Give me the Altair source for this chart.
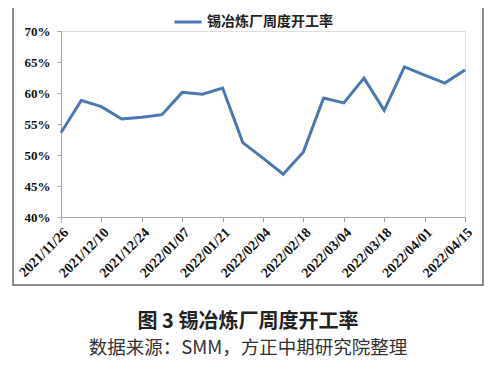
import altair as alt
import pandas as pd

dates = ["2021/11/26", "2021/12/03", "2021/12/10", "2021/12/17", "2021/12/24",
         "2021/12/31", "2022/01/07", "2022/01/14", "2022/01/21", "2022/01/28",
         "2022/02/04", "2022/02/11", "2022/02/18", "2022/02/25", "2022/03/04",
         "2022/03/11", "2022/03/18", "2022/03/25", "2022/04/01", "2022/04/08",
         "2022/04/15"]
rates = [0.536, 0.588, 0.578, 0.558, 0.561, 0.565, 0.601, 0.598, 0.608,
         0.520, 0.495, 0.469, 0.505, 0.592, 0.584, 0.624, 0.572, 0.642,
         0.629, 0.616, 0.637]
series_name = "锡冶炼厂周度开工率"
tick_labels = dates[::2]
y_ticks = [0.40, 0.45, 0.50, 0.55, 0.60, 0.65, 0.70]
caption_title = "图 3  锡冶炼厂周度开工率"
caption_source = "数据来源：SMM，方正中期研究院整理"

df = pd.DataFrame({"date": dates, "rate": rates, "series": [series_name] * len(dates)})

W, H = 404, 186
serif = "Liberation Serif"
cjk = "Noto Sans CJK SC"

line = alt.Chart(df).mark_line(strokeWidth=3).encode(
    x=alt.X("date:O", sort=dates, scale=alt.Scale(type="point", padding=0),
            axis=alt.Axis(title=None, values=tick_labels, labelAngle=315,
                          labelAlign="right", labelBaseline="top",
                          labelFont=serif, labelFontWeight="bold", labelFontSize=14,
                          labelColor="#111", labelPadding=3, tickSize=5,
                          domainColor="#a6a6a6", tickColor="#a6a6a6", grid=False,
                          labelOverlap=False)),
    y=alt.Y("rate:Q", scale=alt.Scale(domain=[0.40, 0.70], nice=False, zero=False),
            axis=alt.Axis(title=None, values=y_ticks, format=".0%",
                          labelFont=serif, labelFontWeight="bold", labelFontSize=13,
                          labelColor="#111", labelPadding=7, tickSize=4,
                          domainColor="#a6a6a6", tickColor="#a6a6a6", grid=False)),
    color=alt.Color("series:N", scale=alt.Scale(range=["#4a78b0"]),
                    legend=alt.Legend(title=None, orient="none", legendX=112, legendY=-24,
                                      symbolType="stroke", symbolSize=729,
                                      symbolStrokeWidth=3, labelFont=cjk,
                                      labelFontWeight="bold", labelFontSize=14,
                                      labelColor="#222", labelOffset=4, padding=0)),
)

border = alt.Chart(df).mark_rect(fill=None, stroke="#8c8c8c", strokeWidth=1.2).encode(
    x=alt.value(-48), x2=alt.value(422), y=alt.value(-28), y2=alt.value(254)
)

cap1 = alt.Chart(pd.DataFrame({"t": [caption_title]})).mark_text(
    font=cjk, fontSize=20, fontWeight="bold", color="#222", align="center", baseline="middle"
).encode(text="t:N", x=alt.value(187), y=alt.value(291))
cap2 = alt.Chart(pd.DataFrame({"t": [caption_source]})).mark_text(
    font=cjk, fontSize=18.5, color="#333", align="center", baseline="middle"
).encode(text="t:N", x=alt.value(187), y=alt.value(317))

chart = alt.layer(border, line, cap1, cap2).properties(
    width=W, height=H,
    autosize=alt.AutoSizeParams(type="none"),
    padding={"left": 53, "top": 23, "right": 26, "bottom": 142},
).configure_view(stroke=None).configure(background="white")

chart.save("out.html", embed_options={"renderer": "svg", "actions": False})
